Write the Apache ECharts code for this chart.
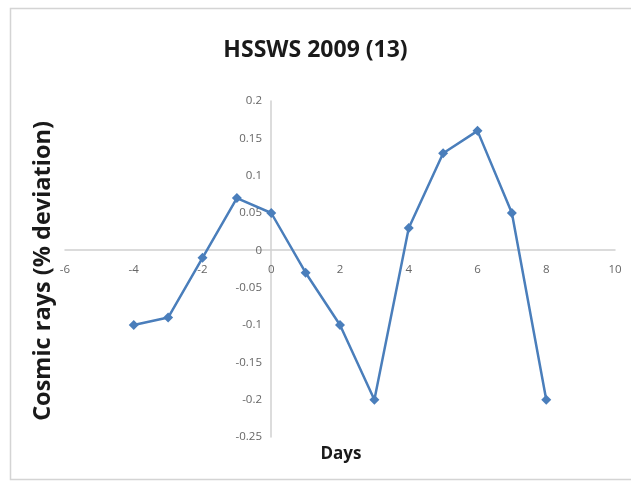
<!DOCTYPE html>
<html><head><meta charset="utf-8">
<script src="https://cdn.jsdelivr.net/npm/echarts@6/dist/echarts.min.js"></script>
<style>html,body{margin:0;padding:0;background:#fff}#c{width:631px;height:482px}</style>
</head><body><div id="c"></div>
<script>
const days = [-4, -3, -2, -1, 0, 1, 2, 3, 4, 5, 6, 7, 8];
const cosmicRays = [-0.1, -0.09, -0.01, 0.07, 0.05, -0.03, -0.1, -0.2, 0.03, 0.13, 0.16, 0.05, -0.2];
const titleText = 'HSSWS 2009 (13)';
const xName = 'Days';
const yName = 'Cosmic rays (% deviation)';

const chart = echarts.init(document.getElementById('c'), null, {renderer: 'canvas'});
chart.setOption({
  animation: false,
  backgroundColor: '#fff',
  title: {
    text: titleText, left: 'center', top: 34,
    textStyle: {fontFamily: 'Open Sans', fontWeight: 'bold', fontSize: 23, color: '#1a1a1a'}
  },
  graphic: [{
    type: 'rect', shape: {x: 10.5, y: 8.5, width: 640, height: 471},
    style: {fill: 'none', stroke: '#d4d4d4', lineWidth: 1.5}, silent: true
  }, {
    type: 'text', x: 31, y: 271, rotation: Math.PI / 2,
    style: {text: yName, font: 'bold 23.5px "Open Sans"', fill: '#1a1a1a', align: 'center', verticalAlign: 'top'}
  }, {
    type: 'text', x: 341, y: 446,
    style: {text: xName, font: 'bold 17px "Open Sans"', fill: '#1a1a1a', align: 'center', verticalAlign: 'top'}
  }],
  grid: {left: 65, right: 16, top: 101, bottom: 45, containLabel: false, outerBoundsMode: 'none'},
  xAxis: {
    type: 'value', min: -6, max: 10, interval: 2,
    position: 'bottom', offset: -187,
    axisLine: {onZero: false, lineStyle: {color: '#d0d0d0', width: 1.5}},
    axisTick: {show: false},
    splitLine: {show: false},
    axisLabel: {color: '#666666', fontSize: 11.5, fontFamily: 'Open Sans', margin: 14}
  },
  yAxis: {
    type: 'value', min: -0.25, max: 0.2, interval: 0.05,
    position: 'left', offset: -206,
    axisLine: {show: true, onZero: false, lineStyle: {color: '#d0d0d0', width: 1.5}},
    axisTick: {show: false},
    splitLine: {show: false},
    axisLabel: {color: '#666666', fontSize: 11.5, fontFamily: 'Open Sans', margin: 9,
      formatter: v => String(Math.round(v * 100) / 100)}
  },
  series: [{
    type: 'line',
    data: days.map((d, i) => [d, cosmicRays[i]]),
    symbol: 'diamond', symbolSize: 10,
    lineStyle: {color: '#4a7ebb', width: 2.5},
    itemStyle: {color: '#4a7ebb'}
  }]
});
</script></body></html>
